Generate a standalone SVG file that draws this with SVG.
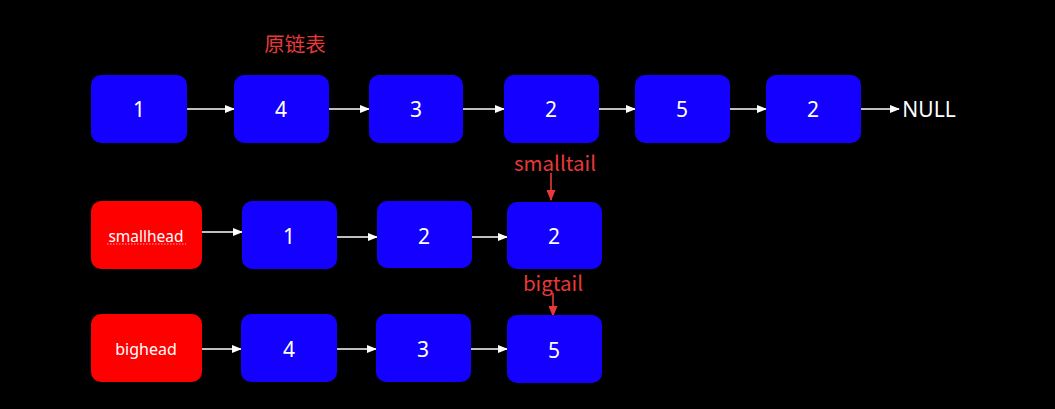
<svg xmlns="http://www.w3.org/2000/svg" width="1055" height="409" viewBox="0 0 1055 409">
<style>
.n{fill:#1400FF}
.h{fill:#FF0000}
.t{fill:#FFFFFF;font-family:"Noto Sans","Noto Sans CJK SC",sans-serif;font-size:21px;text-anchor:middle;dominant-baseline:central}
.s{font-size:16px}
.s2{font-size:15.5px}
.r{fill:#E8393A;font-family:"Noto Sans CJK SC","Noto Sans",sans-serif;font-size:20.5px;text-anchor:middle;dominant-baseline:central}
.c line{stroke:#FFFFFF;stroke-width:1.3}
.c line.red{stroke:#E8393A;stroke-width:1.6}
</style>
<defs>
<marker id="a" markerWidth="10" markerHeight="8" refX="9" refY="4" orient="auto" markerUnits="userSpaceOnUse"><path d="M0,0 L10,4 L0,8 Z" fill="#FFFFFF"/></marker>
<marker id="ar" markerWidth="11" markerHeight="9" refX="10" refY="4.5" orient="auto" markerUnits="userSpaceOnUse"><path d="M0,0 L11,4.5 L0,9 Z" fill="#E8393A"/></marker>
</defs>
<rect width="1055" height="409" fill="#000000"/>
<text class="r" x="295" y="43">原链表</text>
<g class="c">
<line x1="187" y1="109" x2="234" y2="109" marker-end="url(#a)"/>
<line x1="329" y1="109" x2="369" y2="109" marker-end="url(#a)"/>
<line x1="463" y1="109" x2="504" y2="109" marker-end="url(#a)"/>
<line x1="599" y1="109" x2="635" y2="109" marker-end="url(#a)"/>
<line x1="730" y1="109" x2="766" y2="109" marker-end="url(#a)"/>
<line x1="861" y1="109" x2="899" y2="109" marker-end="url(#a)"/>
<line x1="202" y1="232" x2="242" y2="232" marker-end="url(#a)"/>
<line x1="337" y1="237" x2="377" y2="237" marker-end="url(#a)"/>
<line x1="472" y1="237" x2="507" y2="237" marker-end="url(#a)"/>
<line x1="202" y1="349" x2="241" y2="349" marker-end="url(#a)"/>
<line x1="337" y1="349" x2="376" y2="349" marker-end="url(#a)"/>
<line x1="471" y1="349" x2="507" y2="349" marker-end="url(#a)"/>
<line class="red" x1="551" y1="173" x2="551" y2="200" marker-end="url(#ar)"/>
<line class="red" x1="553" y1="293" x2="553" y2="316" marker-end="url(#ar)"/>
</g>
<g id="n1"><rect class="n" x="91" y="75" width="96" height="68" rx="10"/><text class="t" x="139" y="109">1</text></g>
<g id="n2"><rect class="n" x="234" y="75" width="95" height="68" rx="10"/><text class="t" x="281" y="109">4</text></g>
<g id="n3"><rect class="n" x="369" y="75" width="94" height="68" rx="10"/><text class="t" x="416" y="109">3</text></g>
<g id="n4"><rect class="n" x="504" y="75" width="95" height="68" rx="10"/><text class="t" x="551" y="109">2</text></g>
<g id="n5"><rect class="n" x="635" y="75" width="95" height="68" rx="10"/><text class="t" x="682" y="109">5</text></g>
<g id="n6"><rect class="n" x="766" y="75" width="95" height="68" rx="10"/><text class="t" x="813" y="109">2</text></g>
<g id="null"><text class="t" x="929" y="109">NULL</text></g>
<g id="smallhead"><rect class="h" x="91" y="201" width="111" height="68" rx="10"/><text class="t s2" x="146" y="236">smallhead</text><line x1="107" y1="244" x2="186" y2="244" stroke="#FFB0B0" stroke-width="1" stroke-dasharray="1.5,1.5"/></g>
<g id="s1"><rect class="n" x="242" y="201" width="95" height="68" rx="10"/><text class="t" x="289" y="236">1</text></g>
<g id="s2"><rect class="n" x="377" y="201" width="95" height="67" rx="10"/><text class="t" x="424" y="236">2</text></g>
<g id="s3"><rect class="n" x="507" y="202" width="95" height="67" rx="10"/><text class="t" x="554" y="236">2</text></g>
<g id="smalltail"><text class="r" x="555" y="162">smalltail</text></g>
<g id="bighead"><rect class="h" x="91" y="314" width="111" height="68" rx="10"/><text class="t s" x="146" y="349">bighead</text></g>
<g id="b1"><rect class="n" x="241" y="314" width="96" height="68" rx="10"/><text class="t" x="289" y="349">4</text></g>
<g id="b2"><rect class="n" x="376" y="314" width="95" height="68" rx="10"/><text class="t" x="423" y="349">3</text></g>
<g id="b3"><rect class="n" x="507" y="315" width="95" height="68" rx="10"/><text class="t" x="554" y="350">5</text></g>
<g id="bigtail"><text class="r" x="553" y="282">bigtail</text></g>
</svg>
